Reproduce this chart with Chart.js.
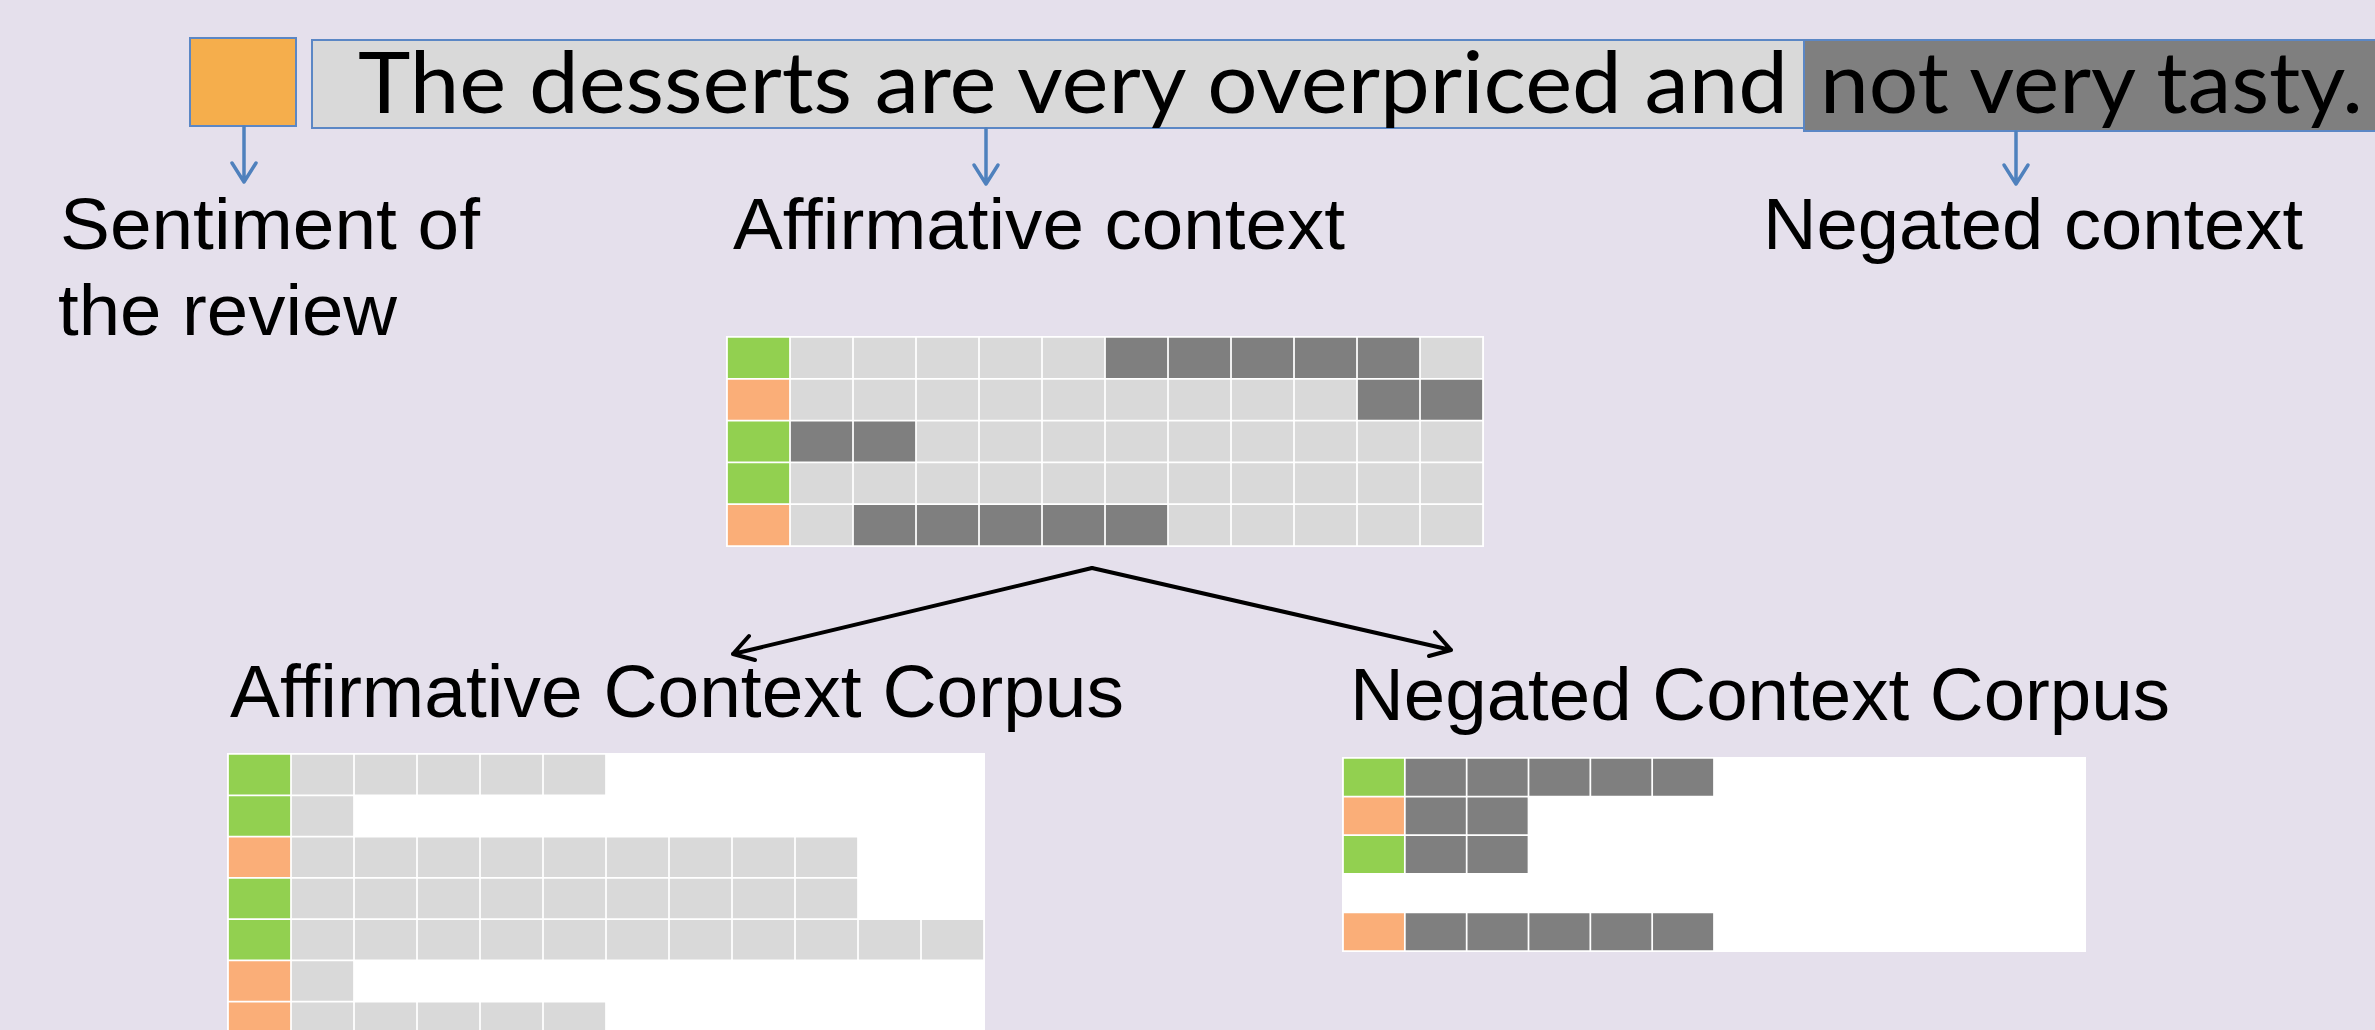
<!DOCTYPE html>
<html>
<head>
<meta charset="utf-8">
<script src="https://cdn.jsdelivr.net/npm/chart.js@4.4.1/dist/chart.umd.min.js"></script>
<style>
  html, body { margin: 0; padding: 0; }
  body {
    width: 2375px; height: 1030px; overflow: hidden; position: relative;
    background: #E5E0EC;
    font-family: "Liberation Sans", Arial, sans-serif;
  }
  .grid-box { position: absolute; background: #fff; }
  #overlay { position: absolute; left: 0; top: 0; pointer-events: none; }
  #overlay text { fill: #000; }
</style>
</head>
<body>

<div class="grid-box" style="left:726px; top:336px; width:758px; height:211px;"><canvas id="reviewGrid"></canvas></div>
<div class="grid-box" style="left:227px; top:753px; width:758px; height:291px;"><canvas id="affGrid"></canvas></div>
<div class="grid-box" style="left:1342px; top:757px; width:744px; height:195px;"><canvas id="negGrid"></canvas></div>

<svg id="overlay" width="2375" height="1030" xmlns="http://www.w3.org/2000/svg">
  <!-- sentence with its sentiment box -->
  <rect x="190" y="38" width="106" height="88" fill="#F5AE4C" stroke="#5B87C5" stroke-width="2"/>
  <rect x="312" y="40" width="1492" height="88" fill="#D9D9D9" stroke="#5B87C5" stroke-width="2"/>
  <rect x="1804" y="40" width="620" height="91" fill="#7F7F7F" stroke="#5B87C5" stroke-width="2"/>
  <text x="358" y="113" font-family="Lato" font-size="86" textLength="1430" lengthAdjust="spacingAndGlyphs">The desserts are very overpriced and</text>
  <text x="1820" y="113" font-family="Lato" font-size="86" textLength="543" lengthAdjust="spacingAndGlyphs">not very tasty.</text>

  <!-- blue pointers -->
  <g stroke="#4F81BD" stroke-width="3.5" fill="none" stroke-linecap="round" stroke-linejoin="round">
    <path d="M244 127 L244 181 M232 163 L244 182 L256 163"/>
    <path d="M986 129 L986 183 M974 165 L986 184 L998 165"/>
    <path d="M2016 132 L2016 183 M2004 165 L2016 184 L2028 165"/>
  </g>

  <text x="60" y="249" font-size="73" textLength="420" lengthAdjust="spacingAndGlyphs">Sentiment of</text>
  <text x="58" y="335" font-size="73" textLength="339" lengthAdjust="spacingAndGlyphs">the review</text>
  <text x="733" y="249" font-size="73" textLength="612" lengthAdjust="spacingAndGlyphs">Affirmative context</text>
  <text x="1763" y="249" font-size="73" textLength="540" lengthAdjust="spacingAndGlyphs">Negated context</text>

  <!-- split arrows -->
  <g stroke="#000" stroke-width="4" fill="none" stroke-linecap="round" stroke-linejoin="round">
    <path d="M1092 568 L733 654 M749 636 L733 654 L755 660"/>
    <path d="M1092 568 L1451 650 M1429 656 L1451 650 L1435 632"/>
  </g>

  <text x="230" y="717" font-size="75" textLength="894" lengthAdjust="spacingAndGlyphs">Affirmative Context Corpus</text>
  <text x="1350" y="720" font-size="75" textLength="820" lengthAdjust="spacingAndGlyphs">Negated Context Corpus</text>
</svg>

<script>
const COLS = 12;
const SENT_COLORS = { pos: '#92D050', neg: '#FAAE78' };
const TOKEN_COLORS = { A: '#D9D9D9', N: '#7F7F7F' };

// reviews: first cell is the sentiment, then one cell per word
// A = word in affirmative context, N = word in negated context
const reviewSentiment = ['pos', 'neg', 'pos', 'pos', 'neg'];
const reviewTokens = ['AAAAANNNNNA', 'AAAAAAAAANN', 'NNAAAAAAAAA', 'AAAAAAAAAAA', 'ANNNNNAAAAA'];

// affirmative context corpus (visible rows)
const affSentiment = ['pos', 'pos', 'neg', 'pos', 'pos', 'neg', 'neg'];
const affLengths = [5, 1, 9, 9, 11, 1, 5];

// negated context corpus (row 4 has no negated words)
const negSentiment = ['pos', 'neg', 'pos', null, 'neg'];
const negLengths = [5, 2, 2, 0, 5];

function buildGrid(id, sentiments, tokenRows) {
    const datasets = [];
    for (let c = 0; c < COLS; c++) {
        const data = [];
        const colors = [];
        sentiments.forEach((s, i) => {
            let color = null;
            if (c === 0) {
                color = s ? SENT_COLORS[s] : null;
            } else {
                const t = tokenRows[i][c - 1];
                color = t ? TOKEN_COLORS[t] : null;
            }
            data.push(color ? [c, c + 1] : null);
            colors.push(color || 'rgba(0,0,0,0)');
        });
        datasets.push({
            data: data,
            backgroundColor: colors,
            borderColor: '#ffffff',
            borderWidth: 1.2,
            borderSkipped: false,
            grouped: false,
            barPercentage: 1,
            categoryPercentage: 1
        });
    }

    new Chart(document.getElementById(id), {
        type: 'bar',
        data: { labels: sentiments.map((_, i) => 'row ' + (i + 1)), datasets: datasets },
        options: {
            indexAxis: 'y',
            responsive: true,
            maintainAspectRatio: false,
            animation: false,
            layout: { padding: 1 },
            scales: {
                x: { type: 'linear', min: 0, max: COLS, display: false },
                y: { display: false }
            },
            plugins: {
                legend: { display: false },
                tooltip: { enabled: false }
            }
        }
    });
}

buildGrid('reviewGrid', reviewSentiment, reviewTokens);
buildGrid('affGrid', affSentiment, affLengths.map(n => 'A'.repeat(n)));
buildGrid('negGrid', negSentiment, negLengths.map(n => 'N'.repeat(n)));
</script>
</body>
</html>
